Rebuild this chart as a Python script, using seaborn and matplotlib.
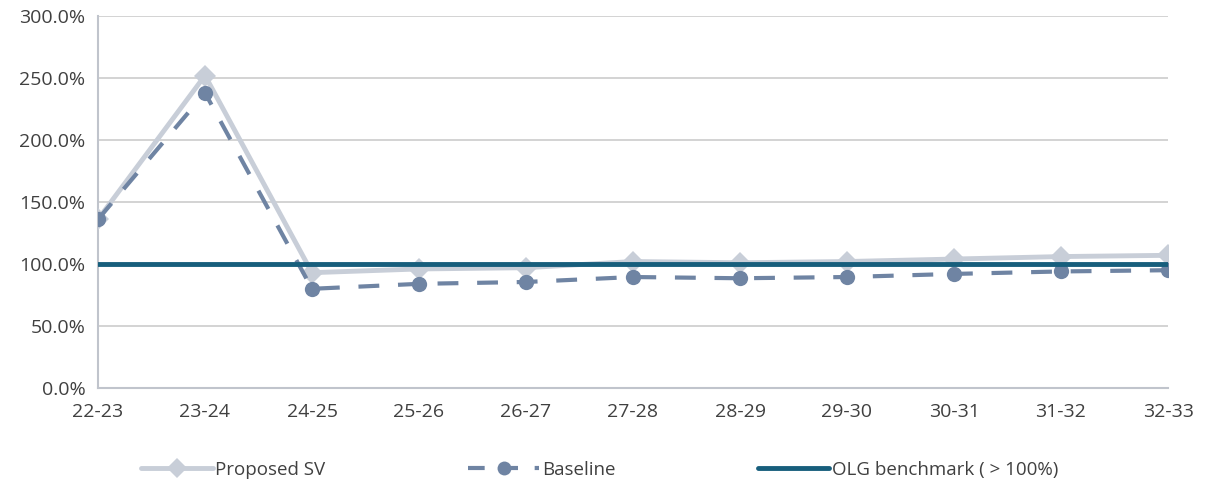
import matplotlib
matplotlib.use("Agg")
import matplotlib.pyplot as plt
import seaborn as sns
import pandas as pd
from matplotlib.ticker import FuncFormatter, MultipleLocator
from matplotlib.lines import Line2D

categories = ["22-23", "23-24", "24-25", "25-26", "26-27", "27-28",
              "28-29", "29-30", "30-31", "31-32", "32-33"]
proposed_sv = [136, 252, 93, 96, 97, 102, 101, 102, 104, 106, 107]
baseline = [136, 238, 80, 84, 85.5, 89.5, 88.5, 89.5, 92, 94, 95]
olg_benchmark = [100] * len(categories)

sns.set_theme(style="white")
plt.rcParams['font.family'] = ['Open Sans', 'DejaVu Sans']

C_SV = "#c8ced8"
C_BASE = "#6f84a3"
C_OLG = "#175e7c"
TXT = "#404040"

df = pd.DataFrame({"period": categories, "sv": proposed_sv,
                   "base": baseline, "olg": olg_benchmark})

fig = plt.figure(figsize=(12.08, 4.87), dpi=100)
ax = fig.add_axes([98/1208, 1-388/487, (1168-98)/1208, (388-16)/487])

sns.lineplot(data=df, x="period", y="sv", ax=ax, color=C_SV, lw=3.5,
             marker="D", markersize=11, markeredgewidth=0, sort=False, zorder=3)
sns.lineplot(data=df, x="period", y="base", ax=ax, color=C_BASE, lw=3,
             marker="o", markersize=11, markeredgewidth=0, sort=False,
             dashes=False, zorder=4)
ax.lines[-1].set_dashes([5, 4.5])
sns.lineplot(data=df, x="period", y="olg", ax=ax, color=C_OLG, lw=3.5,
             sort=False, zorder=5)

ax.set_xlim(0, len(categories) - 1)
ax.set_ylim(0, 300)
ax.yaxis.set_major_locator(MultipleLocator(50))
ax.yaxis.set_major_formatter(FuncFormatter(lambda v, p: f"{v:.1f}%"))
ax.set_xlabel("")
ax.set_ylabel("")
ax.grid(axis="y", color="#d0d0d0", lw=1.3)
ax.set_axisbelow(True)
for s in ["top", "right"]:
    ax.spines[s].set_visible(False)
for s in ["left", "bottom"]:
    ax.spines[s].set_color("#c0c4cc")
    ax.spines[s].set_linewidth(1.5)
ax.tick_params(axis="both", which="major", direction="out", length=6,
               width=1.3, color="#c0c4cc", labelsize=14, labelcolor=TXT)
ax.tick_params(axis="y", pad=3)
ax.tick_params(axis="x", pad=5)

handles = [
    Line2D([], [], color=C_SV, lw=3.5, marker="D", markersize=10, markeredgewidth=0),
    Line2D([], [], color=C_BASE, lw=3, marker="o", markersize=10,
           markeredgewidth=0, dashes=[4, 4]),
    Line2D([], [], color=C_OLG, lw=3.5),
]
labels = ["Proposed SV", "Baseline", "OLG benchmark ( > 100%)"]
leg = fig.legend(handles, labels, loc="center", bbox_to_anchor=(600/1208, 1-470/487),
                 ncol=3, frameon=False, fontsize=13.5, handlelength=3.8,
                 handletextpad=0.15, columnspacing=7.6)
for t in leg.get_texts():
    t.set_color(TXT)

fig.savefig("out.png", dpi=100)
